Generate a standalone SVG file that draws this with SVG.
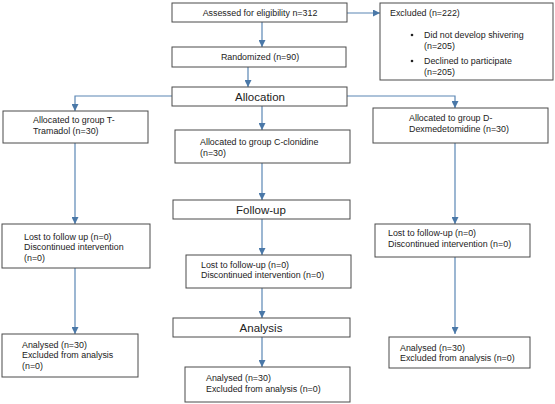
<svg xmlns="http://www.w3.org/2000/svg" width="555" height="404" viewBox="0 0 555 404">
<style>
.box{fill:#fff;stroke:#4a4a4a;stroke-width:1}
.t{font-family:"Liberation Sans",Arial,sans-serif;font-size:8.9px;fill:#222}
.h{font-family:"Liberation Sans",Arial,sans-serif;font-size:11.5px;fill:#222}
.c{stroke:#5a86b4;stroke-width:1.2;fill:none;marker-end:url(#ah)}
</style>
<defs>
<marker id="ah" viewBox="0 0 10 10" refX="10" refY="5" markerWidth="7" markerHeight="7" markerUnits="userSpaceOnUse" orient="auto">
<path d="M0,0 L10,5 L0,10 z" fill="#4a78a8"/>
</marker>
</defs>
<rect width="555" height="404" fill="#fff"/>
<g id="connectors">
<path class="c" d="M262,22 V47"/>
<path class="c" d="M347,13 H380"/>
<path class="c" d="M248,67 V87"/>
<path class="c" d="M172,96 H75 V111"/>
<path class="c" d="M347,96 H455 V108"/>
<path class="c" d="M262,106 V130"/>
<path class="c" d="M75,143 V224"/>
<path class="c" d="M262,163 V200"/>
<path class="c" d="M455,143 V224"/>
<path class="c" d="M262,219 V255"/>
<path class="c" d="M75,268 V334"/>
<path class="c" d="M262,288 V318"/>
<path class="c" d="M455,257 V334"/>
<path class="c" d="M262,337 V367"/>
</g>
<g id="assessed"><rect class="box" x="172" y="3" width="175" height="19"/><text class="t" x="260" y="16" text-anchor="middle">Assessed for eligibility n=312</text></g>
<g id="excluded"><rect class="box" x="380" y="3" width="173" height="77"/>
<text class="t" x="390" y="16">Excluded (n=222)</text>
<circle cx="412" cy="35" r="1.3" fill="#222"/>
<text class="t" x="424" y="38">Did not develop shivering</text>
<text class="t" x="424" y="49">(n=205)</text>
<circle cx="412" cy="61" r="1.3" fill="#222"/>
<text class="t" x="424" y="64">Declined to participate</text>
<text class="t" x="424" y="75">(n=205)</text></g>
<g id="randomized"><rect class="box" x="172" y="47" width="174" height="20"/><text class="t" x="260" y="60" text-anchor="middle">Randomized (n=90)</text></g>
<g id="allocation"><rect class="box" x="172" y="87" width="175" height="19"/><text class="h" x="260" y="101" text-anchor="middle">Allocation</text></g>
<g id="groupT"><rect class="box" x="3" y="111" width="145" height="32"/><text class="t" x="33" y="123">Allocated to group T-</text><text class="t" x="33" y="134">Tramadol (n=30)</text></g>
<g id="groupC"><rect class="box" x="175" y="130" width="175" height="33"/><text class="t" x="200" y="145">Allocated to group C-clonidine</text><text class="t" x="200" y="156">(n=30)</text></g>
<g id="groupD"><rect class="box" x="373" y="108" width="175" height="35"/><text class="t" x="409" y="121">Allocated to group D-</text><text class="t" x="409" y="132">Dexmedetomidine (n=30)</text></g>
<g id="followup"><rect class="box" x="173" y="200" width="177" height="19"/><text class="h" x="261" y="214" text-anchor="middle">Follow-up</text></g>
<g id="lostT"><rect class="box" x="2" y="224" width="148" height="44"/><text class="t" x="24" y="240">Lost to follow up (n=0)</text><text class="t" x="24" y="250">Discontinued intervention</text><text class="t" x="24" y="261">(n=0)</text></g>
<g id="lostC"><rect class="box" x="186" y="255" width="165" height="33"/><text class="t" x="201" y="268">Lost to follow-up (n=0)</text><text class="t" x="201" y="278">Discontinued intervention (n=0)</text></g>
<g id="lostD"><rect class="box" x="375" y="224" width="155" height="33"/><text class="t" x="388" y="236">Lost to follow-up (n=0)</text><text class="t" x="388" y="247">Discontinued intervention (n=0)</text></g>
<g id="analysis"><rect class="box" x="173" y="318" width="177" height="19"/><text class="h" x="261" y="332" text-anchor="middle">Analysis</text></g>
<g id="analysedT"><rect class="box" x="2" y="334" width="136" height="43"/><text class="t" x="22" y="348">Analysed (n=30)</text><text class="t" x="22" y="358">Excluded from analysis</text><text class="t" x="22" y="369">(n=0)</text></g>
<g id="analysedC"><rect class="box" x="185" y="367" width="165" height="35"/><text class="t" x="206" y="381">Analysed (n=30)</text><text class="t" x="206" y="392">Excluded from analysis (n=0)</text></g>
<g id="analysedD"><rect class="box" x="389" y="337" width="141" height="31"/><text class="t" x="400" y="351">Analysed (n=30)</text><text class="t" x="400" y="361">Excluded from analysis (n=0)</text></g>
</svg>
